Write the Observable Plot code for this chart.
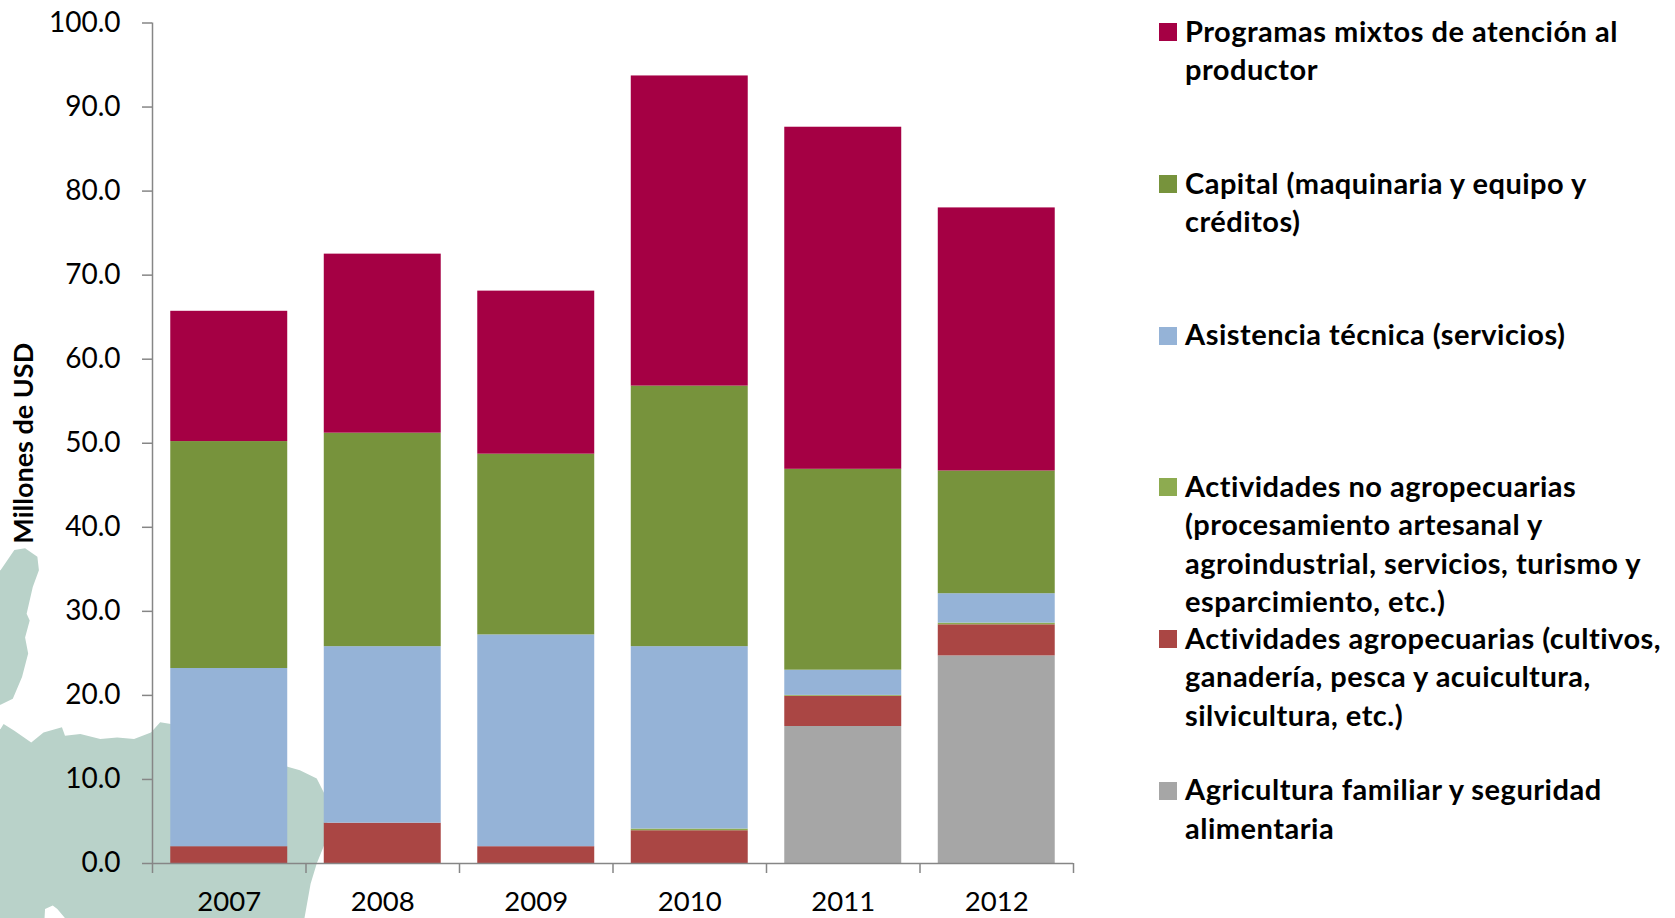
<!DOCTYPE html>
<html><head><meta charset="utf-8">
<script src="https://cdn.jsdelivr.net/npm/d3@7"></script>
<script src="https://cdn.jsdelivr.net/npm/@observablehq/plot@0.6"></script>
<style>
html,body{margin:0;padding:0;background:#fff;width:1675px;height:918px;overflow:hidden}
#wrap{position:relative;width:1675px;height:918px;font-family:Lato,sans-serif}
#wrap svg{position:absolute;left:0;top:0}
.lg{position:absolute;left:1185px;width:490px;font:700 29px/38.6px Lato,sans-serif;color:#000;letter-spacing:.5px;white-space:nowrap}
.sw{position:absolute;left:1159px;width:18px;height:18px}
</style></head><body><div id="wrap"></div>
<script>
const years = [2007, 2008, 2009, 2010, 2011, 2012];
const boundaries = [2006.5, 2007.5, 2008.5, 2009.5, 2010.5, 2011.5, 2012.5];
const yTicks = [0, 10, 20, 30, 40, 50, 60, 70, 80, 90, 100];

// stack order: bottom to top
const agricultura = [0, 0, 0, 0, 16.3, 24.7];
const agropecuarias = [2.0, 4.8, 2.0, 3.9, 3.6, 3.7];
const noAgropecuarias = [0, 0, 0, 0.2, 0.1, 0.2];
const asistencia = [21.2, 21.0, 25.2, 21.7, 3.0, 3.5];
const capital = [27.0, 25.4, 21.5, 31.0, 23.9, 14.6];
const programas = [15.5, 21.3, 19.4, 36.9, 40.7, 31.3];

const seriesNames = ["Agricultura familiar", "Agropecuarias", "No agropecuarias", "Asistencia", "Capital", "Programas"];
const seriesValues = [agricultura, agropecuarias, noAgropecuarias, asistencia, capital, programas];
const seriesColors = ["#a6a6a6", "#aa4644", "#8dab50", "#95b3d7", "#77933c", "#a50044"];

// backdrop map outlines, in the chart's own units [year position, USD]
const island = [[2005.44,34.9],[2005.51,34.9],[2005.60,37.3],[2005.67,37.5],[2005.75,36.5],[2005.76,34.9],[2005.72,32.9],[2005.68,29.7],[2005.70,28.9],[2005.67,26.9],[2005.69,25.0],[2005.65,22.2],[2005.59,19.6],[2005.51,18.9],[2005.44,18.9]];
const mainland = [[2005.44,15.4],[2005.51,16.0],[2005.53,16.6],[2005.60,15.8],[2005.71,14.4],[2005.79,15.6],[2005.91,16.2],[2005.93,15.2],[2006.03,15.4],[2006.16,14.8],[2006.27,15.0],[2006.38,14.8],[2006.49,15.6],[2006.55,16.8],[2006.62,16.6],[2006.92,15.0],[2007.38,11.5],[2007.46,11.1],[2007.57,10.1],[2007.62,8.3],[2007.64,5.1],[2007.63,2.7],[2007.57,0],[2007.53,-2.4],[2007.49,-6.5],[2007.49,-8.8],[2005.94,-8.8],[2005.93,-6.5],[2005.88,-5.4],[2005.85,-5.0],[2005.80,-5.4],[2005.79,-8.8],[2005.44,-8.8]];

const legendItems = [
  {y: 32, c: "#a50044", t: "Programas mixtos de atención al<br>productor"},
  {y: 184, c: "#77933c", t: "Capital (maquinaria y equipo y<br>créditos)"},
  {y: 335.5, c: "#95b3d7", t: "Asistencia técnica (servicios)"},
  {y: 487, c: "#8dab50", t: "Actividades no agropecuarias<br>(procesamiento artesanal y<br>agroindustrial, servicios, turismo y<br>esparcimiento, etc.)"},
  {y: 639, c: "#aa4644", t: "Actividades agropecuarias (cultivos,<br>ganadería, pesca y acuicultura,<br>silvicultura, etc.)"},
  {y: 790.5, c: "#a6a6a6", t: "Agricultura familiar y seguridad<br>alimentaria"}
];

const rows = seriesNames.flatMap((s, k) => years.map((year, i) => ({year, series: s, value: seriesValues[k][i]})));
const landRows = [...island.map(d => ({x: d[0], y: d[1], part: "island"})), ...mainland.map(d => ({x: d[0], y: d[1], part: "mainland"}))];

const axisColor = "#868686";
const chart = Plot.plot({
  width: 1675, height: 918,
  marginLeft: 152, marginRight: 602, marginTop: 22.5, marginBottom: 55,
  style: {background: "transparent", fontFamily: "Lato, sans-serif", overflow: "hidden"},
  x: {type: "linear", domain: [2006.5, 2012.5]},
  y: {type: "linear", domain: [0, 100]},
  color: {domain: seriesNames, range: seriesColors},
  marks: [
    Plot.line(landRows, {x: "x", y: "y", z: "part", fill: "#b9d2c9", stroke: "none"}),
    Plot.rectY(rows, {
      x1: d => d.year - 0.381, x2: d => d.year + 0.381,
      y: "value", fill: "series", order: seriesNames
    }),
    Plot.ruleX([2006.5], {y1: 0, y2: 100, stroke: axisColor, strokeWidth: 1.5}),
    Plot.ruleY([0], {x1: 2006.5, x2: 2012.5, stroke: axisColor, strokeWidth: 1.5}),
    Plot.axisY({ticks: yTicks, tickFormat: d3.format(".1f"), tickSize: 10, tickPadding: 22, stroke: axisColor, strokeWidth: 1.5, color: "#000", fontSize: 28, label: null, anchor: "left"}),
    Plot.axisX({ticks: boundaries, tickFormat: () => "", tickSize: 10, stroke: axisColor, strokeWidth: 1.5, label: null, anchor: "bottom"}),
    Plot.axisX({ticks: years, tickFormat: "d", tickSize: 0, tickPadding: 28, color: "#000", fontSize: 27.5, label: null, anchor: "bottom"}),
    Plot.text(["Millones de USD"], {x: 2006.5, y: 50, dx: -128, rotate: -90, fontSize: 27, fontWeight: 700, fill: "#000", style: {letterSpacing: "0.5px"}})
  ]
});
const wrap = document.getElementById("wrap");
wrap.appendChild(chart);
for (const it of legendItems) {
  const s = document.createElement("div"); s.className = "sw"; s.style.top = (it.y - 9) + "px"; s.style.background = it.c; wrap.appendChild(s);
  const l = document.createElement("div"); l.className = "lg"; l.style.top = (it.y - 20.3) + "px"; l.innerHTML = it.t; wrap.appendChild(l);
}
</script></body></html>
